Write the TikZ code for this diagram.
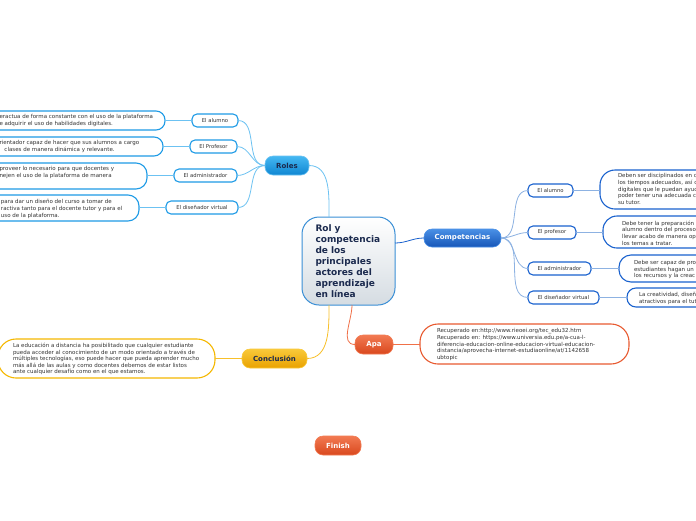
\documentclass[tikz,border=0pt]{standalone}
\usepackage{fontspec}
\setmainfont{DejaVu Sans}
\definecolor{rolblue}{HTML}{1E9BE6}
\definecolor{rolline}{HTML}{6CC2F2}
\definecolor{roltop}{HTML}{45B8F2}
\definecolor{rolbot}{HTML}{0F86D2}
\definecolor{compblue}{HTML}{1A62CE}
\definecolor{compline}{HTML}{8DB2E2}
\definecolor{comptop}{HTML}{4A90E6}
\definecolor{compbot}{HTML}{1656B8}
\definecolor{apared}{HTML}{E85A30}
\definecolor{apatop}{HTML}{F27A52}
\definecolor{apabot}{HTML}{D9481E}
\definecolor{apaline}{HTML}{F07048}
\definecolor{concline}{HTML}{F8C02A}
\definecolor{conctop}{HTML}{F9C93A}
\definecolor{concbot}{HTML}{E9A200}
\definecolor{concedge}{HTML}{F5B800}
\definecolor{txtgray}{HTML}{333333}
\definecolor{navy}{HTML}{1B2A4E}
\definecolor{cenborder}{HTML}{3A8FD6}
\definecolor{cengray}{HTML}{D5DCE2}
\tikzset{
  every node/.style={inner sep=0pt, outer sep=0pt},
  mainbox/.style={rectangle, rounded corners=17pt, draw=cenborder, line width=1pt,
    top color=white, bottom color=cengray, font=\fontsize{9}{11}\selectfont\bfseries,
    text=navy, align=left},
  topic/.style={rectangle, rounded corners=8pt, minimum height=19pt,
    font=\fontsize{7}{8}\selectfont\bfseries, line width=0.6pt},
  sub/.style={rectangle, rounded corners=5pt, fill=white, line width=1.1pt,
    minimum height=13pt, font=\fontsize{5.3}{6}\selectfont, text=txtgray},
  note/.style={rectangle, fill=white, line width=1.1pt},
  ltxt/.style={font=\fontsize{5.5}{7}\selectfont, text=txtgray, align=left, anchor=west},
  rtxt/.style={font=\fontsize{5.5}{6.6}\selectfont, text=txtgray, align=left, anchor=west},
  link/.style={line width=0.8pt},
}
\begin{document}
\begin{tikzpicture}[x=1pt,y=-1pt]
\useasboundingbox (0,0) rectangle (696,520);
\clip (0,0) rectangle (696,520);
\fill[white] (0,0) rectangle (696,520);

% central
\node[mainbox, minimum width=93pt, minimum height=88pt, text width=66pt, inner xsep=13.5pt]
  (cen) at (348.5,261) {Rol y\\competencia\\de los\\principales\\actores del\\aprendizaje\\en línea};

% topics
\node[topic, draw=rolline, top color=roltop, bottom color=rolbot, minimum width=44pt, text=navy]
  (roles) at (287,165.5) {Roles};
\node[topic, draw=comptop, top color=comptop, bottom color=compbot, minimum width=77pt, minimum height=18pt, text=white]
  (comp) at (462.5,238) {Competencias};
\node[topic, draw=apatop, top color=apatop, bottom color=apabot, minimum width=38pt, text=white]
  (apa) at (374,344.5) {Apa};
\node[topic, draw=conctop, top color=conctop, bottom color=concbot, minimum width=65pt, text=navy]
  (conc) at (274.5,358.5) {Conclusión};
\node[topic, draw=apatop, top color=apatop, bottom color=apabot, minimum width=46pt, text=white]
  (fin) at (338,445.5) {Finish};

% roles children
\node[sub, draw=rolblue, minimum width=46pt] (ra) at (215,120.5) {El alumno};
\node[sub, draw=rolblue, minimum width=47pt] (rp) at (213.5,146.5) {El Profesor};
\node[sub, draw=rolblue, minimum width=63pt] (rd) at (205.5,175.5) {El administrador};
\node[sub, draw=rolblue, minimum width=72pt] (rv) at (202,207.5) {El diseñador virtual};

% roles notes
\node[note, draw=rolblue, rounded corners=9pt, minimum width=205pt, minimum height=19pt] (na) at (62.5,120.5) {};
\node[ltxt] at (-0.5,120.5) {eractua de forma constante con el uso de la plataforma\\e adquirir el uso de habilidades digitales.};
\node[note, draw=rolblue, rounded corners=9pt, minimum width=203pt, minimum height=19pt] (np) at (61.5,146.5) {};
\node[ltxt] at (-0.5,146.5) {rientador capaz de hacer que sus alumnos a cargo\\\hspace*{5pt}clases de manera dinámica y relevante.};
\node[note, draw=rolblue, rounded corners=11pt, minimum width=187pt, minimum height=26pt] (nd) at (53.5,176) {};
\node[ltxt] at (-0.5,172.5) {proveer lo necesario para que docentes y\\nejen el uso de la plataforma de manera};
\node[note, draw=rolblue, rounded corners=11pt, minimum width=179pt, minimum height=26pt] (nv) at (49.5,208) {};
\node[ltxt] at (1,208.5) {para dar un diseño del curso a tomar de\\ractiva tanto para el docente tutor y para el\\uso de la plataforma.};

% competencias children
\node[sub, draw=compblue, minimum width=45pt] (ca) at (550.5,190.5) {El alumno};
\node[sub, draw=compblue, minimum width=48pt] (cp) at (552,232.5) {El profesor};
\node[sub, draw=compblue, minimum width=63pt] (cd) at (559.5,268.5) {El administrador};
\node[sub, draw=compblue, minimum width=71pt] (cv) at (563.5,297.5) {El diseñador virtual};

% competencias notes
\node[note, draw=compblue, rounded corners=15pt, minimum width=140pt, minimum height=39pt] (ma) at (670,189.5) {};
\node[rtxt] at (618,189) {Deben ser disciplinados en c\\los tiempos adecuados, así c\\digitales que le puedan ayuc\\poder tener una adecuada c\\su tutor.};
\node[note, draw=compblue, rounded corners=14pt, minimum width=137pt, minimum height=32pt] (mp) at (671.5,232) {};
\node[rtxt] at (622,233) {Debe tener la preparación\\alumno dentro del proceso\\llevar acabo de manera op\\los temas a tratar.};
\node[note, draw=compblue, rounded corners=12pt, minimum width=121pt, minimum height=27pt] (md) at (679.5,268.5) {};
\node[rtxt] at (634,269.5) {Debe ser capaz de pro\\estudiantes hagan un\\los recursos y la creac};
\node[note, draw=compblue, rounded corners=9pt, minimum width=113pt, minimum height=19pt] (mv) at (683.5,297.5) {};
\node[rtxt] at (639,298.5) {La creatividad, diseñ\\atractivos para el tut};

% apa note
\node[note, draw=apared, rounded corners=18pt, minimum width=209pt, minimum height=40pt] (apan) at (524.5,344) {};
\node[rtxt] at (437,344.5) {Recuperado en:http://www.rieoei.org/tec\_edu32.htm\\Recuperado en: https://www.universia.edu.pe/a-cua-l-\\diferencia-educacion-online-educacion-virtual-educacion-\\distancia/aprovecha-internet-estudiaonline/at/1142658\\ubtopic};

% conclusion note
\node[note, draw=concedge, rounded corners=18pt, minimum width=217pt, minimum height=39pt] (concn) at (106.5,358.5) {};
\node[rtxt] at (13,359) {La educación a distancia ha posibilitado que cualquier estudiante\\pueda acceder al conocimiento de un modo orientado a través de\\múltiples tecnologías, eso puede hacer que pueda aprender mucho\\más allá de las aulas y como docentes debemos de estar listos\\ante cualquier desafío como en el que estamos.};

% connectors
\draw[link, rolline] (roles.east) to[out=0, in=90] ([xshift=-19.5pt]cen.north);
\draw[link, rolline] (roles.west) to[out=180, in=0] (ra.east);
\draw[link, rolline] (roles.west) to[out=180, in=0] (rp.east);
\draw[link, rolline] (roles.west) to[out=180, in=0] (rd.east);
\draw[link, rolline] (roles.west) to[out=180, in=0] (rv.east);
\draw[link, rolline] (ra.west) -- (na.east |- ra.west);
\draw[link, rolline] (rp.west) -- (np.east |- rp.west);
\draw[link, rolline] (rd.west) -- (nd.east |- rd.west);
\draw[link, rolline] (rv.west) -- (nv.east |- rv.west);

\draw[link, compblue] ([yshift=18pt]cen.east) to[out=0, in=180] (comp.west);
\draw[link, compline] (comp.east) to[out=0, in=180] (ca.west);
\draw[link, compline] (comp.east) to[out=0, in=180] (cp.west);
\draw[link, compline] (comp.east) to[out=0, in=180] (cd.west);
\draw[link, compline] (comp.east) to[out=0, in=180] (cv.west);
\draw[link, compline] (ca.east) -- (ma.west |- ca.east);
\draw[link, compline] (cp.east) -- (mp.west |- cp.east);
\draw[link, compline] (cd.east) -- (md.west |- cd.east);
\draw[link, compline] (cv.east) -- (mv.west |- cv.east);

\draw[link, concline] ([xshift=-19.5pt]cen.south) to[out=-90, in=0] (conc.east);
\draw[link, concline] (conc.west) -- (concn.east |- conc.west);
\draw[link, apaline] ([xshift=3.5pt]cen.south) to[out=-90, in=180] (apa.west);
\draw[link, apaline] (apa.east) -- (apan.west |- apa.east);
\end{tikzpicture}
\end{document}
